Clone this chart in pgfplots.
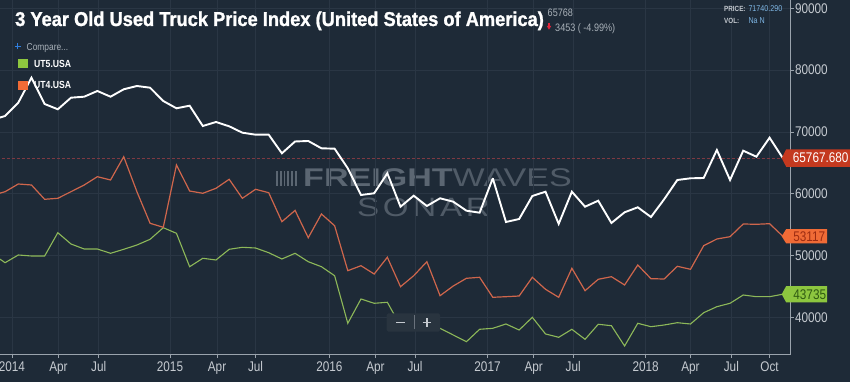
\documentclass[border=0pt]{standalone}
\usepackage{fontspec}
\usepackage{pgfplots}
\pgfplotsset{compat=1.18}
\setmainfont{Liberation Sans}[FakeStretch=0.84]
\newfontfamily\titlefont{Liberation Sans}[FakeStretch=0.913,FakeBold=1.2]
\newfontfamily\wmfont{Liberation Sans}[FakeStretch=1.33]
\newfontfamily\wmspaced{Liberation Sans}[FakeStretch=1.25,LetterSpace=14]
\definecolor{bgc}{HTML}{1E2A37}
\definecolor{gridc}{HTML}{2A3644}
\definecolor{axc}{HTML}{9AA3AC}
\definecolor{tickc}{HTML}{C5CAD0}
\definecolor{whiteL}{HTML}{FFFFFF}
\definecolor{orangeL}{HTML}{CF664C}
\definecolor{greenL}{HTML}{8DB859}
\definecolor{dashc}{HTML}{7E3A42}
\definecolor{tagR}{HTML}{C4391F}
\definecolor{tagO}{HTML}{F06B36}
\definecolor{tagG}{HTML}{8DC63F}
\definecolor{tagOt}{HTML}{9C2C12}
\definecolor{tagGt}{HTML}{2F5A12}
\definecolor{legG}{HTML}{8DC63F}
\definecolor{legO}{HTML}{F06B36}
\definecolor{wmA}{HTML}{5B6672}
\definecolor{wmB}{HTML}{505B67}
\definecolor{graytxt}{HTML}{A9B1B9}
\definecolor{bluetxt}{HTML}{7DB5E3}
\definecolor{plusblue}{HTML}{2F7FE0}
\definecolor{btnc}{HTML}{29343F}
\definecolor{arrowred}{HTML}{E0243A}

\pgfplotstableread{
j v
-1 71926
0 72574
1 74726
2 78771
3 74516
4 73658
5 75535
6 75697
7 76619
8 75697
9 76894
10 77428
11 77153
12 75001
13 73820
14 74240
15 70956
16 71603
17 70908
18 69872
19 69549
20 69549
21 66539
22 68450
23 68530
24 67348
25 67283
26 64112
27 59792
28 60067
29 63303
30 57899
31 59679
32 58013
33 59258
34 58708
35 57252
36 56928
37 62494
38 55423
39 55908
40 59630
41 60326
42 55120
43 60326
44 57899
45 58870
46 55261
47 56993
48 57802
49 56232
50 59096
51 62219
52 62494
53 62543
54 67073
55 62219
56 66959
57 65989
58 69063
59 65768
}\ututhree

\pgfplotstableread{
j v
-1 59714
0 60326
1 61572
2 61410
3 59096
4 59258
5 60326
6 61410
7 62753
8 62219
9 65989
10 60326
11 55213
12 54565
13 64647
14 60439
15 60067
16 60876
17 62332
18 59258
19 60714
20 60164
21 55472
22 57300
23 52882
24 56718
25 54824
26 47543
27 48352
28 47009
29 49711
30 44954
31 46734
32 48999
33 43498
34 45068
35 46314
36 46476
37 43240
38 43337
39 43450
40 46476
41 44534
42 43240
43 47932
44 44307
45 46152
46 46573
47 45231
48 48467
49 46250
50 46200
51 48256
52 47770
53 51589
54 52673
55 53045
56 55100
57 55051
58 55149
59 53117
}\utfour

\pgfplotstableread{
j v
-1 50300
0 48840
1 50084
2 49922
3 49922
4 53691
5 51863
6 51054
7 51054
8 50358
9 51005
10 51700
11 52622
12 54500
13 53594
14 48190
15 49550
16 49275
17 51005
18 51329
19 51215
20 50455
21 49436
22 50358
23 48999
24 48190
25 46734
26 39033
27 42965
28 42270
29 42432
30 38600
31 38900
32 38600
33 38220
34 37140
35 36056
36 38061
37 38223
38 38920
39 37949
40 40003
41 37306
42 36767
43 38061
44 36443
45 38871
46 38645
47 35360
48 39033
49 38483
50 38757
51 39130
52 38920
53 40750
54 41720
55 42270
56 43611
57 43337
58 43337
59 43735
}\utfive

\begin{document}
\begin{tikzpicture}[x=1pt,y=1pt]
\fill[bgc] (0,0) rectangle (850,382);
\path[use as bounding box] (0,0) rectangle (850,382);

% watermark
\foreach \i in {0,...,5}{
  \fill[wmA] (276+\i*3.8,195.5) rectangle (277.8+\i*3.8,211.3);
}
\node[anchor=base west, inner sep=0] at (303,195.2)
  {\wmfont\fontsize{25.6}{28}\selectfont{\color{wmA}\bfseries FREIGHT}{\color{wmB}WAVES}};
\node[anchor=base west, inner sep=0, text=wmB] at (357,165.4)
  {\wmspaced\fontsize{26.5}{28}\selectfont SONAR};

\begin{axis}[
  at={(0pt,27.3pt)}, anchor=south west,
  scale only axis, width=790pt, height=354.7pt,
  xmin=-0.387, xmax=59.55, ymin=33952, ymax=91343,
  axis x line*=bottom, axis y line*=right,
  axis line style={-, color=axc, line width=0.8pt},
  tick align=outside, major tick length=3.5pt,
  tick style={color=axc, line width=0.6pt},
  xtick={0.52,4.05,7.1,12.51,16.08,19.0,24.6,28.1,31.1,36.6,40.1,43.1,48.6,52.0,55.1,58.0},
  xticklabels={2014,Apr,Jul,2015,Apr,Jul,2016,Apr,Jul,2017,Apr,Jul,2018,Apr,Jul,Oct},
  ytick={40000,50000,60000,70000,80000,90000},
  scaled y ticks=false,
  yticklabel pos=right,
  /pgf/number format/.cd, 1000 sep={}, assume math mode=true,
  /pgfplots/.cd,
  ticklabel style={font=\fontsize{14}{16}\selectfont, text=tickc},
  yticklabel style={xshift=-2pt},
  grid=major, major grid style={color=gridc, line width=0.6pt},
  clip=true,
]
\addplot[dashc, densely dashed, line width=0.8pt, forget plot] coordinates {(-1,65767.68) (60,65767.68)};
\addplot[greenL, line width=1.1pt] table[x=j,y=v] {\utfive};
\addplot[orangeL, line width=1.2pt] table[x=j,y=v] {\utfour};
\addplot[whiteL, line width=1.9pt, line join=miter, miter limit=3] table[x=j,y=v] {\ututhree};
\coordinate (tr) at (axis cs:58.92,65767.68);
\coordinate (to) at (axis cs:58.92,53117);
\coordinate (tg) at (axis cs:58.92,43735);
\end{axis}

% zoom buttons
\fill[btnc, rounded corners=1.5pt] (386.7,50.3) rectangle (440,68.7);
\draw[gridc!70!white, line width=0.5pt] (414,52.5) -- (414,66.5);
\draw[tickc, line width=1.6pt] (396,59.5) -- (404.5,59.5);
\draw[tickc, line width=1.6pt] (422.5,59.5) -- (431,59.5) (426.7,55.2) -- (426.7,63.8);

% right tags
\fill[tagR] (tr) -- ++(4.5,8.8) -- ++(63.8,0) -- ++(0,-17.6) -- ++(-63.8,0) -- cycle;
\node[anchor=west, inner sep=0, text=white, xshift=11pt] at (tr) {\fontsize{14}{16}\selectfont 65767.680};
\fill[tagO] (to) -- ++(4.5,7.2) -- ++(40.8,0) -- ++(0,-14.4) -- ++(-40.8,0) -- cycle;
\node[anchor=west, inner sep=0, text=tagOt, xshift=11.5pt] at (to) {\fontsize{14}{16}\selectfont 53117};
\fill[tagG] (tg) -- ++(4.5,8.2) -- ++(40.8,0) -- ++(0,-16.4) -- ++(-40.8,0) -- cycle;
\node[anchor=west, inner sep=0, text=tagGt, xshift=11.5pt] at (tg) {\fontsize{14}{16}\selectfont 43735};

% title
\node[anchor=base west, inner sep=0, text=white] at (15,356)
  {\titlefont\bfseries\fontsize{20}{22}\selectfont 3 Year Old Used Truck Price Index (United States of America)};
\node[anchor=base west, inner sep=0, text=graytxt] at (547.5,365)
  {\fontsize{10.8}{11}\selectfont 65768};
\draw[arrowred, line width=1.1pt] (549,358.5) -- (549,355);
\fill[arrowred] (546.8,356) -- (551.2,356) -- (549,352.3) -- cycle;
\node[anchor=base west, inner sep=0, text=graytxt] at (555,350)
  {\fontsize{10.8}{11}\selectfont 3453 ( -4.99\%)};

% price / vol
\node[anchor=base west, inner sep=0, text=tickc] at (724,370.5)
  {\bfseries\fontsize{7.5}{8}\selectfont PRICE:};
\node[anchor=base west, inner sep=0, text=bluetxt] at (748.3,370.5)
  {\fontsize{8.5}{9}\selectfont 71740.290};
\node[anchor=base west, inner sep=0, text=tickc] at (724,358.2)
  {\bfseries\fontsize{7.5}{8}\selectfont VOL:};
\node[anchor=base west, inner sep=0, text=bluetxt] at (748.3,358.2)
  {\fontsize{8.5}{9}\selectfont Na N};

% compare + legend
\draw[plusblue, line width=1.2pt] (14.8,335.5) -- (20.8,335.5) (17.8,332.5) -- (17.8,338.5);
\node[anchor=base west, inner sep=0, text=graytxt] at (26.5,331.2)
  {\fontsize{10}{12}\selectfont Compare...};
\fill[legG] (18.3,313.7) rectangle (27.7,323);
\node[anchor=base west, inner sep=0, text=white] at (34,314.7)
  {\bfseries\fontsize{10.3}{12}\selectfont UT5.USA};
\fill[legO] (18.3,292) rectangle (27.7,301.3);
\node[anchor=base west, inner sep=0, text=white] at (34,293)
  {\bfseries\fontsize{10.3}{12}\selectfont UT4.USA};
\end{tikzpicture}
\end{document}
